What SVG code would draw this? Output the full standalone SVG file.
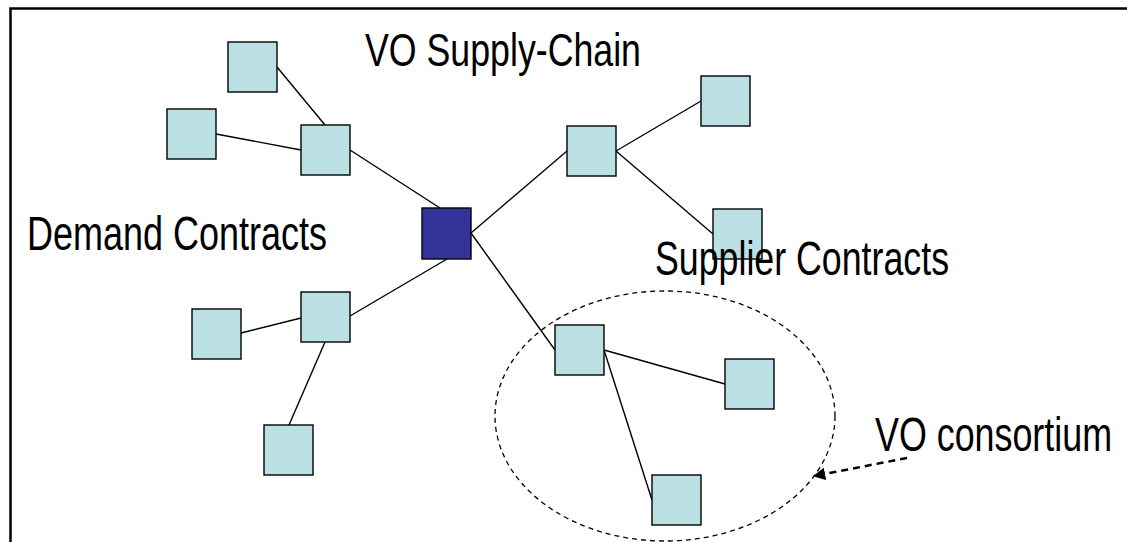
<svg xmlns="http://www.w3.org/2000/svg" width="1127" height="542" viewBox="0 0 1127 542">
<defs>
<style>
.box{fill:#BBE0E3;stroke:#000;stroke-width:1.4}
.hub{fill:#333399;stroke:#000;stroke-width:1.4}
.edge{stroke:#000;stroke-width:1.4;fill:none}
.lbl{font-family:"Liberation Sans",Arial,sans-serif;font-size:49px;fill:#000}
</style>
<marker id="ah" viewBox="0 0 10 10" refX="9" refY="5" markerWidth="5" markerHeight="5" orient="auto" markerUnits="strokeWidth">
<path d="M0,0 L10,5 L0,10 z" fill="#000"/>
</marker>
</defs>
<rect x="0" y="0" width="1127" height="542" fill="#fff"/>
<path d="M10.5,542 V8.5 H1127" fill="none" stroke="#000" stroke-width="2.5"/>

<g id="connectors">
<line class="edge" x1="277" y1="67" x2="325" y2="125"/>
<line class="edge" x1="216" y1="134" x2="301" y2="150"/>
<line class="edge" x1="350" y1="150" x2="440" y2="208"/>
<line class="edge" x1="471" y1="233" x2="567" y2="151"/>
<line class="edge" x1="471" y1="233" x2="555" y2="350"/>
<line class="edge" x1="616" y1="151" x2="701" y2="101"/>
<line class="edge" x1="616" y1="151" x2="713" y2="234"/>
<line class="edge" x1="604" y1="350" x2="725" y2="384"/>
<line class="edge" x1="604" y1="350" x2="652" y2="500"/>
<line class="edge" x1="350" y1="316" x2="447" y2="259"/>
<line class="edge" x1="241" y1="333" x2="301" y2="318"/>
<line class="edge" x1="325" y1="342" x2="289" y2="425"/>
<line x1="907" y1="458" x2="814" y2="476" stroke="#000" stroke-width="2.5" stroke-dasharray="7,5" marker-end="url(#ah)"/>
</g>

<g id="consortium">
<ellipse cx="665" cy="416" rx="170" ry="125" fill="none" stroke="#000" stroke-width="1.3" stroke-dasharray="5,4"/>
</g>

<g id="nodeA"><rect class="box" x="228" y="42" width="49" height="50"/></g>
<g id="nodeB"><rect class="box" x="167" y="109" width="49" height="50"/></g>
<g id="nodeC"><rect class="box" x="301" y="125" width="49" height="50"/></g>
<g id="hub"><rect class="hub" x="422" y="208" width="49" height="51"/></g>
<g id="nodeD"><rect class="box" x="567" y="126" width="49" height="50"/></g>
<g id="nodeE"><rect class="box" x="701" y="76" width="49" height="50"/></g>
<g id="nodeF"><rect class="box" x="713" y="209" width="49" height="50"/></g>
<g id="nodeG"><rect class="box" x="555" y="325" width="49" height="50"/></g>
<g id="nodeH"><rect class="box" x="725" y="359" width="49" height="50"/></g>
<g id="nodeI"><rect class="box" x="652" y="475" width="49" height="50"/></g>
<g id="nodeJ"><rect class="box" x="301" y="292" width="49" height="50"/></g>
<g id="nodeK"><rect class="box" x="192" y="309" width="49" height="50"/></g>
<g id="nodeL"><rect class="box" x="264" y="425" width="49" height="50"/></g>

<g id="labels">
<text class="lbl" x="365" y="66" style="font-size:47px" textLength="276" lengthAdjust="spacingAndGlyphs">VO Supply-Chain</text>
<text class="lbl" x="27" y="250" textLength="300" lengthAdjust="spacingAndGlyphs">Demand Contracts</text>
<text class="lbl" x="655" y="275" textLength="294" lengthAdjust="spacingAndGlyphs">Supplier Contracts</text>
<text class="lbl" x="875" y="451" textLength="237" lengthAdjust="spacingAndGlyphs">VO consortium</text>
</g>
</svg>
